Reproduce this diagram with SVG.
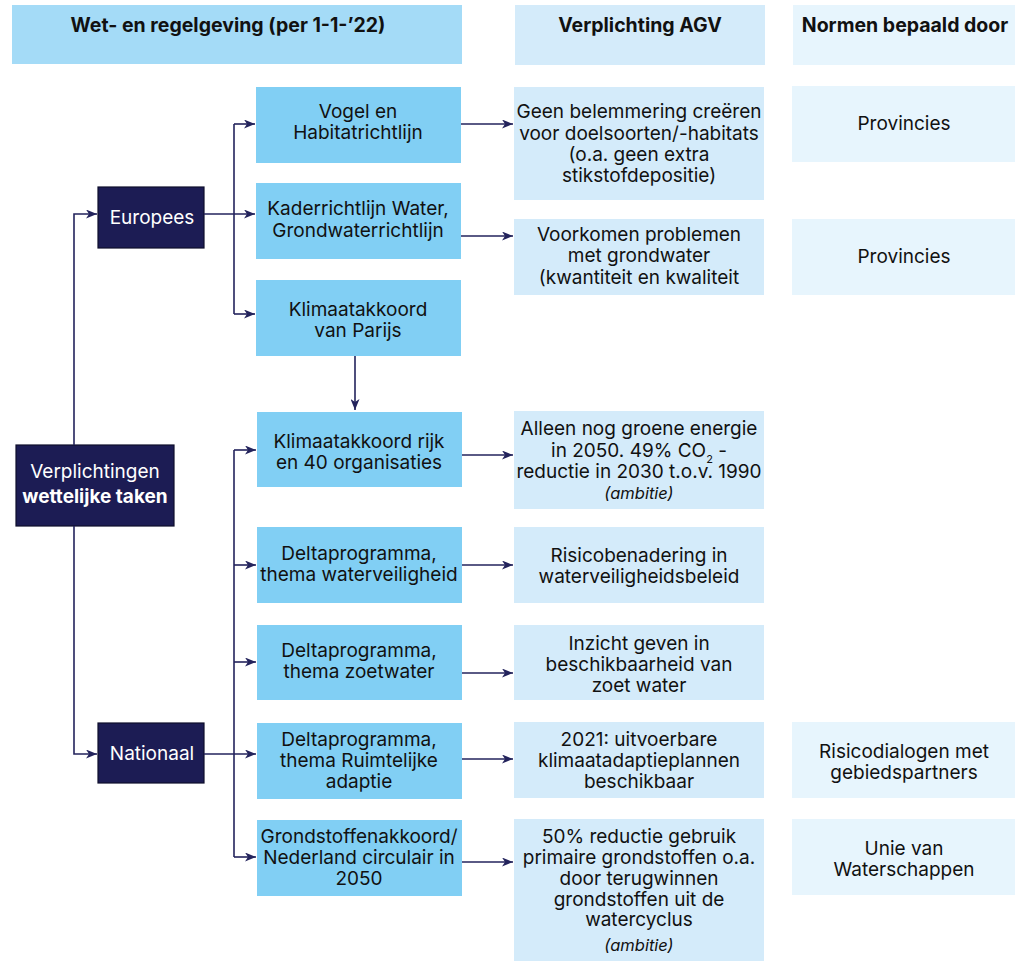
<svg xmlns="http://www.w3.org/2000/svg" width="1033" height="962" viewBox="0 0 1033 962">
  <defs>
    <marker id="arrow" markerUnits="userSpaceOnUse" markerWidth="11" markerHeight="9" refX="11" refY="4.5" orient="auto">
      <path d="M0,0 L11,4.5 L0,9 L3,4.5 z" fill="#23235c"/>
    </marker>
    <style>
      text { font-family: Inter, "Noto Sans", "Liberation Sans", sans-serif; font-size: 19px; fill: #111; text-anchor: middle; }
      .hdr { font-weight: 700; font-size: 19.5px; }
      .light { fill: #ffffff; }
      .it { font-style: italic; font-size: 16.5px; }
      .head1 { fill: #a4dbf7; }
      .law { fill: #81cff4; }
      .agv { fill: #d4ebfa; }
      .norm { fill: #e7f5fd; }
      .dark { fill: #1c1c54; stroke: #0e0e2c; stroke-width: 1.2; }
      .conn path { fill: none; stroke: #23235c; stroke-width: 1.6; }
    </style>
  </defs>
  <rect width="1033" height="962" fill="#ffffff"/>

  <!-- column headers -->
  <g id="header-wet">
    <rect class="head1" x="12" y="5" width="450" height="59"/>
    <text class="hdr" x="228" y="32">Wet- en regelgeving (per 1-1-’22)</text>
  </g>
  <g id="header-agv">
    <rect class="agv" x="515" y="5" width="250" height="60"/>
    <text class="hdr" x="640" y="32">Verplichting AGV</text>
  </g>
  <g id="header-normen">
    <rect class="norm" x="793" y="5" width="222" height="60"/>
    <text class="hdr" x="905" y="32">Normen bepaald door</text>
  </g>

  <!-- root and branch nodes -->
  <g id="verplichtingen">
    <rect class="dark" x="16" y="445" width="158" height="81"/>
    <text class="light" x="95" y="478">Verplichtingen</text>
    <text class="light" x="95" y="503" font-weight="700">wettelijke taken</text>
  </g>
  <g id="europees">
    <rect class="dark" x="98" y="187" width="106" height="61"/>
    <text class="light" x="152" y="224">Europees</text>
  </g>
  <g id="nationaal">
    <rect class="dark" x="98" y="723" width="106" height="60"/>
    <text class="light" x="152" y="760">Nationaal</text>
  </g>

  <!-- legislation column -->
  <g id="vogel">
    <rect class="law" x="256" y="87" width="205" height="76"/>
    <text x="358" y="118">Vogel en</text>
    <text x="358" y="139">Habitatrichtlijn</text>
  </g>
  <g id="kaderrichtlijn">
    <rect class="law" x="256" y="183" width="205" height="76"/>
    <text x="358" y="215">Kaderrichtlijn Water,</text>
    <text x="358" y="237">Grondwaterrichtlijn</text>
  </g>
  <g id="parijs">
    <rect class="law" x="256" y="280" width="205" height="76"/>
    <text x="358" y="316">Klimaatakkoord</text>
    <text x="358" y="337">van Parijs</text>
  </g>
  <g id="klimaat-rijk">
    <rect class="law" x="257" y="412" width="205" height="75"/>
    <text x="359" y="448">Klimaatakkoord rijk</text>
    <text x="359" y="469">en 40 organisaties</text>
  </g>
  <g id="delta-veiligheid">
    <rect class="law" x="257" y="527" width="205" height="76"/>
    <text x="359" y="560">Deltaprogramma,</text>
    <text x="359" y="581">thema waterveiligheid</text>
  </g>
  <g id="delta-zoetwater">
    <rect class="law" x="257" y="625" width="205" height="75"/>
    <text x="359" y="657">Deltaprogramma,</text>
    <text x="359" y="678">thema zoetwater</text>
  </g>
  <g id="delta-adaptie">
    <rect class="law" x="257" y="723" width="205" height="76"/>
    <text x="359" y="746">Deltaprogramma,</text>
    <text x="359" y="767">thema Ruimtelijke</text>
    <text x="359" y="788">adaptie</text>
  </g>
  <g id="grondstoffen">
    <rect class="law" x="257" y="820" width="205" height="76"/>
    <text x="359" y="843">Grondstoffenakkoord/</text>
    <text x="359" y="864">Nederland circulair in</text>
    <text x="359" y="885">2050</text>
  </g>

  <!-- obligations column -->
  <g id="agv-belemmering">
    <rect class="agv" x="514" y="87" width="250" height="113"/>
    <text x="639" y="118">Geen belemmering creëren</text>
    <text x="639" y="140">voor doelsoorten/-habitats</text>
    <text x="639" y="161">(o.a. geen extra</text>
    <text x="639" y="182">stikstofdepositie)</text>
  </g>
  <g id="agv-grondwater">
    <rect class="agv" x="514" y="219" width="250" height="76"/>
    <text x="639" y="241">Voorkomen problemen</text>
    <text x="639" y="262">met grondwater</text>
    <text x="639" y="284">(kwantiteit en kwaliteit</text>
  </g>
  <g id="agv-energie">
    <rect class="agv" x="514" y="411" width="250" height="98"/>
    <text x="639" y="435">Alleen nog groene energie</text>
    <text x="639" y="457">in 2050. 49% CO<tspan font-size="11" dy="6">2</tspan><tspan dy="-6"> -</tspan></text>
    <text x="639" y="478">reductie in 2030 t.o.v. 1990</text>
    <text class="it" x="639" y="499">(ambitie)</text>
  </g>
  <g id="agv-risico">
    <rect class="agv" x="514" y="527" width="250" height="76"/>
    <text x="639" y="562">Risicobenadering in</text>
    <text x="639" y="583">waterveiligheidsbeleid</text>
  </g>
  <g id="agv-zoetwater">
    <rect class="agv" x="514" y="625" width="250" height="75"/>
    <text x="639" y="650">Inzicht geven in</text>
    <text x="639" y="671">beschikbaarheid van</text>
    <text x="639" y="692">zoet water</text>
  </g>
  <g id="agv-adaptie">
    <rect class="agv" x="514" y="722" width="250" height="76"/>
    <text x="639" y="746">2021: uitvoerbare</text>
    <text x="639" y="767">klimaatadaptieplannen</text>
    <text x="639" y="788">beschikbaar</text>
  </g>
  <g id="agv-grondstoffen">
    <rect class="agv" x="514" y="819" width="250" height="142"/>
    <text x="639" y="843">50% reductie gebruik</text>
    <text x="639" y="864">primaire grondstoffen o.a.</text>
    <text x="639" y="885">door terugwinnen</text>
    <text x="639" y="906">grondstoffen uit de</text>
    <text x="639" y="926">watercyclus</text>
    <text class="it" x="639" y="951">(ambitie)</text>
  </g>

  <!-- standards column -->
  <g id="norm-provincies-1">
    <rect class="norm" x="792" y="86" width="223" height="76"/>
    <text x="904" y="130">Provincies</text>
  </g>
  <g id="norm-provincies-2">
    <rect class="norm" x="792" y="219" width="223" height="76"/>
    <text x="904" y="263">Provincies</text>
  </g>
  <g id="norm-risicodialogen">
    <rect class="norm" x="792" y="722" width="223" height="76"/>
    <text x="904" y="758">Risicodialogen met</text>
    <text x="904" y="779">gebiedspartners</text>
  </g>
  <g id="norm-unie">
    <rect class="norm" x="792" y="819" width="223" height="76"/>
    <text x="904" y="855">Unie van</text>
    <text x="904" y="876">Waterschappen</text>
  </g>

  <!-- connectors -->
  <g id="connectors" class="conn">
    <path d="M74,445 V214 H97" marker-end="url(#arrow)"/>
    <path d="M74,526 V754 H97" marker-end="url(#arrow)"/>

    <path d="M204,214 H255" marker-end="url(#arrow)"/>
    <path d="M234,124 V314"/>
    <path d="M234,124 H255" marker-end="url(#arrow)"/>
    <path d="M234,314 H255" marker-end="url(#arrow)"/>

    <path d="M204,754 H256" marker-end="url(#arrow)"/>
    <path d="M234,450 V857"/>
    <path d="M234,450 H256" marker-end="url(#arrow)"/>
    <path d="M234,565 H256" marker-end="url(#arrow)"/>
    <path d="M234,662 H256" marker-end="url(#arrow)"/>
    <path d="M234,857 H256" marker-end="url(#arrow)"/>

    <path d="M355,356 V410" marker-end="url(#arrow)"/>

    <path d="M461,124 H513" marker-end="url(#arrow)"/>
    <path d="M461,236 H513" marker-end="url(#arrow)"/>
    <path d="M462,455 H513" marker-end="url(#arrow)"/>
    <path d="M462,565 H513" marker-end="url(#arrow)"/>
    <path d="M462,673 H513" marker-end="url(#arrow)"/>
    <path d="M462,759 H513" marker-end="url(#arrow)"/>
    <path d="M462,862 H513" marker-end="url(#arrow)"/>
  </g>
</svg>
